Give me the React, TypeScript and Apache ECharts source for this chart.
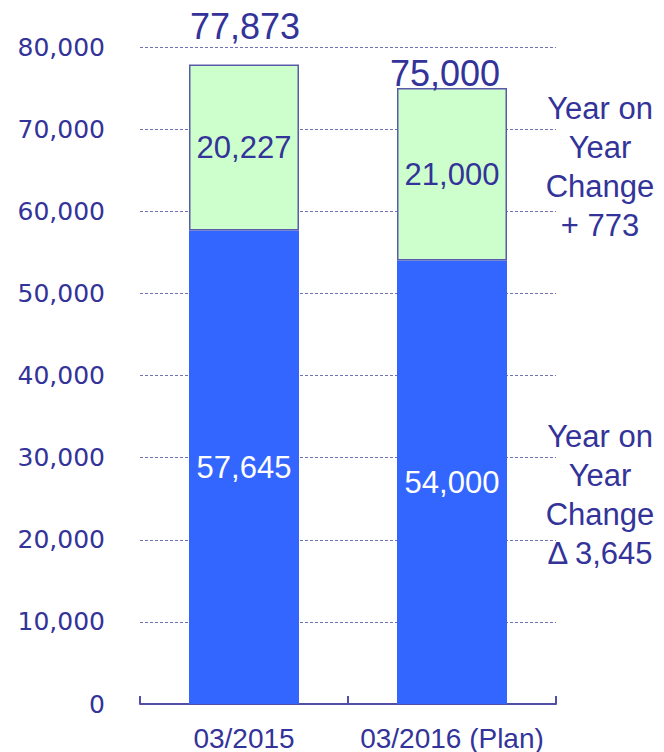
import React, { useEffect, useRef } from "react";
import * as echarts from "echarts";

const categories = ["03/2015", "03/2016 (Plan)"];
const baseValues = [57645, 54000];
const addedValues = [20227, 21000];
const totalValues = [77873, 75000];
const axisMin = 0;
const axisMax = 80000;
const axisStep = 10000;
const upperNote = ["Year on", "Year", "Change", "+ 773"];
const lowerNote = ["Year on", "Year", "Change", "Δ 3,645"];

const NAVY = "#333399";
const FONT = "'Liberation Sans', Arial, sans-serif";
const fmt = (v: number) => Number(v).toLocaleString("en-US");

export default function App() {
  const ref = useRef<HTMLDivElement>(null);
  useEffect(() => {
    document.body.style.margin = "0";
    const chart = echarts.init(ref.current!, null, { renderer: "svg" });
    const totalLabelTweaks = [
      { distance: 19, offset: [1, 0] },
      { distance: -4, offset: [-7, 0] },
    ];
    chart.setOption({
      animation: false,
      backgroundColor: "#ffffff",
      grid: { left: 140, right: 108, top: 47, bottom: 47, containLabel: false },
      xAxis: {
        type: "category",
        data: categories,
        axisLine: { show: true, lineStyle: { color: "#5050a8", width: 2 } },
        axisTick: { show: true, inside: true, length: 8, lineStyle: { color: "#5050a8", width: 2 } },
        axisLabel: {
          color: NAVY,
          fontSize: 28,
          fontFamily: FONT,
          margin: 20,
          interval: 0,
          hideOverlap: false,
        },
        splitLine: { show: false },
      },
      yAxis: {
        type: "value",
        min: axisMin,
        max: axisMax,
        interval: axisStep,
        axisLine: { show: false },
        axisTick: { show: false },
        axisLabel: {
          color: "#333399",
          fontSize: 25,
          fontFamily: "'DejaVu Sans', sans-serif",
          margin: 35,
          formatter: (v: number) => fmt(v),
        },
        splitLine: { show: true, lineStyle: { color: "#7070b4", width: 1, type: [3, 2] } },
      },
      series: [
        {
          name: "base",
          type: "bar",
          stack: "total",
          barWidth: 110,
          data: baseValues,
          itemStyle: { color: "#3366ff" },
          label: {
            show: true,
            position: "inside",
            color: "#ffffff",
            fontSize: 31,
            fontFamily: FONT,
            formatter: (p: any) => fmt(p.value),
          },
          z: 2,
        },
        {
          name: "added",
          type: "bar",
          stack: "total",
          barWidth: 110,
          data: addedValues,
          itemStyle: { color: "#ccffcc", borderColor: "#5a5aaa", borderWidth: 1.5 },
          label: {
            show: true,
            position: "inside",
            color: NAVY,
            fontSize: 31,
            fontFamily: FONT,
            formatter: (p: any) => fmt(p.value),
          },
          z: 2,
        },
        {
          name: "total",
          type: "scatter",
          symbolSize: 1,
          itemStyle: { color: "rgba(255,255,255,0)", opacity: 1 },
          data: totalValues.map((v, i) => ({
            value: v,
            label: {
              show: true,
              position: "top",
              distance: totalLabelTweaks[i].distance,
              offset: totalLabelTweaks[i].offset,
              color: NAVY,
              opacity: 1,
              fontSize: 36,
              fontFamily: FONT,
              formatter: (p: any) => fmt(p.value),
            },
          })),
          z: 5,
        },
      ],
      graphic: [
        {
          type: "text",
          x: 600,
          y: 89,
          style: {
            text: upperNote.join("\n"),
            fill: NAVY,
            font: `31px ${FONT}`,
            lineHeight: 39,
            align: "center",
            verticalAlign: "top",
          },
        },
        {
          type: "text",
          x: 600,
          y: 417,
          style: {
            text: lowerNote.join("\n"),
            fill: NAVY,
            font: `31px ${FONT}`,
            lineHeight: 39,
            align: "center",
            verticalAlign: "top",
          },
        },
      ],
    });
    return () => chart.dispose();
  }, []);
  return <div ref={ref} style={{ width: 664, height: 752 }} />;
}
